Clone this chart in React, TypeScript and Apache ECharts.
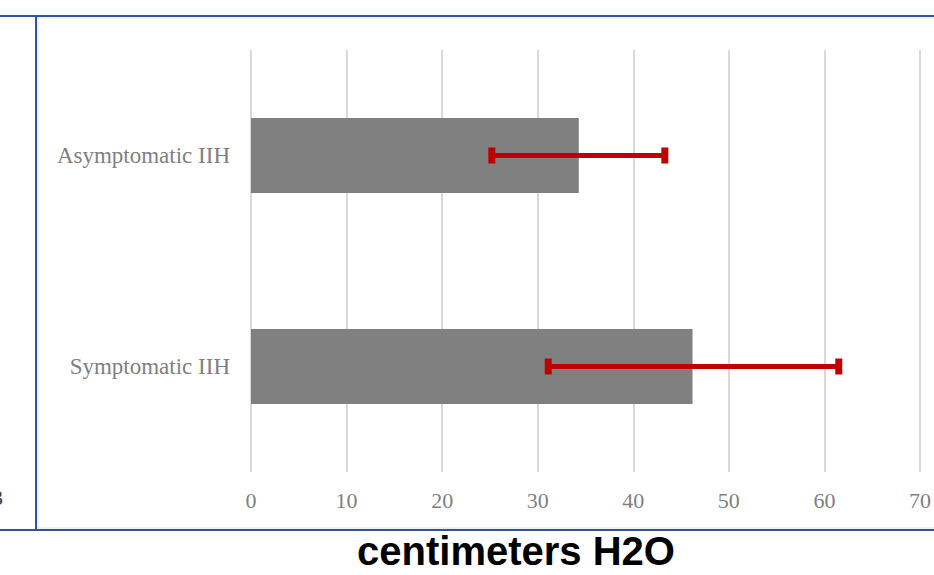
import React, { useEffect, useRef } from "react";
import * as echarts from "echarts";

const categories = ["Asymptomatic IIH", "Symptomatic IIH"];
const meanValues = [34.3, 46.2];
const errorLow = [25.2, 31.1];
const errorHigh = [43.3, 61.5];
const xTicks = { min: 0, max: 70, interval: 10 };
const axisTitle = "centimeters H2O";

export default function App() {
  const ref = useRef<HTMLDivElement>(null);
  useEffect(() => {
    if (!ref.current) return;
    const chart = echarts.init(ref.current, null, { renderer: "svg" });
    const errData = categories.map((c, i) => [errorLow[i], errorHigh[i], i]);
    chart.setOption({
      animation: false,
      backgroundColor: "#ffffff",
      grid: { left: 251, right: 14, top: 50, bottom: 103 },
      xAxis: {
        type: "value",
        min: xTicks.min,
        max: xTicks.max,
        interval: xTicks.interval,
        axisLine: { show: false },
        axisTick: { show: false },
        splitLine: { show: true, lineStyle: { color: "#d9d9d9", width: 2 } },
        axisLabel: {
          color: "#7f7f7f",
          fontFamily: "Liberation Serif",
          fontSize: 22,
          margin: 17,
        },
      },
      yAxis: {
        type: "category",
        data: categories,
        inverse: true,
        axisLine: { show: false },
        axisTick: { show: false },
        splitLine: { show: false },
        axisLabel: {
          color: "#7f7f7f",
          fontFamily: "Liberation Serif",
          fontSize: 23,
          margin: 21,
        },
      },
      series: [
        {
          type: "bar",
          data: meanValues,
          barWidth: "35.5%",
          itemStyle: { color: "#808080" },
          z: 2,
        },
        {
          type: "custom",
          data: errData,
          encode: { x: [0, 1], y: 2 },
          z: 3,
          renderItem: (params: any, api: any) => {
            const lo = api.value(0);
            const hi = api.value(1);
            const cat = api.value(2);
            const p1 = api.coord([lo, cat]);
            const p2 = api.coord([hi, cat]);
            const color = "#c00000";
            const capW = 7;
            const capH = 16;
            return {
              type: "group",
              children: [
                {
                  type: "line",
                  shape: { x1: p1[0], y1: p1[1], x2: p2[0], y2: p2[1] },
                  style: { stroke: color, lineWidth: 5 },
                },
                {
                  type: "rect",
                  shape: { x: p1[0] - capW / 2, y: p1[1] - capH / 2, width: capW, height: capH },
                  style: { fill: color },
                },
                {
                  type: "rect",
                  shape: { x: p2[0] - capW / 2, y: p2[1] - capH / 2, width: capW, height: capH },
                  style: { fill: color },
                },
              ],
            };
          },
        },
      ],
      graphic: [
        { type: "line", shape: { x1: 37, y1: 18, x2: 934, y2: 18 }, style: { stroke: "#e6e6e6", lineWidth: 1 } },
        { type: "line", shape: { x1: 38, y1: 17, x2: 38, y2: 529 }, style: { stroke: "#e0e0e0", lineWidth: 1 } },
        { type: "line", shape: { x1: 37, y1: 528, x2: 934, y2: 528 }, style: { stroke: "#e0e0e0", lineWidth: 1 } },
        { type: "line", shape: { x1: 0, y1: 16, x2: 934, y2: 16 }, style: { stroke: "#2f5597", lineWidth: 2 } },
        { type: "line", shape: { x1: 0, y1: 530, x2: 934, y2: 530 }, style: { stroke: "#2f5597", lineWidth: 2 } },
        { type: "line", shape: { x1: 36, y1: 15, x2: 36, y2: 531 }, style: { stroke: "#2f5597", lineWidth: 2 } },
        {
          type: "text",
          x: 3,
          y: 497,
          style: {
            text: "3",
            fill: "#404040",
            font: "22px 'Liberation Serif'",
            textAlign: "right",
            textVerticalAlign: "middle",
          },
        },
        {
          type: "text",
          x: 516,
          y: 551,
          style: {
            text: axisTitle,
            fill: "#000000",
            font: "bold 40px 'Liberation Sans'",
            textAlign: "center",
            textVerticalAlign: "middle",
          },
        },
      ],
    });
    return () => chart.dispose();
  }, []);
  return (
    <div
      ref={ref}
      style={{ position: "absolute", left: 0, top: 0, width: 934, height: 575 }}
    />
  );
}
